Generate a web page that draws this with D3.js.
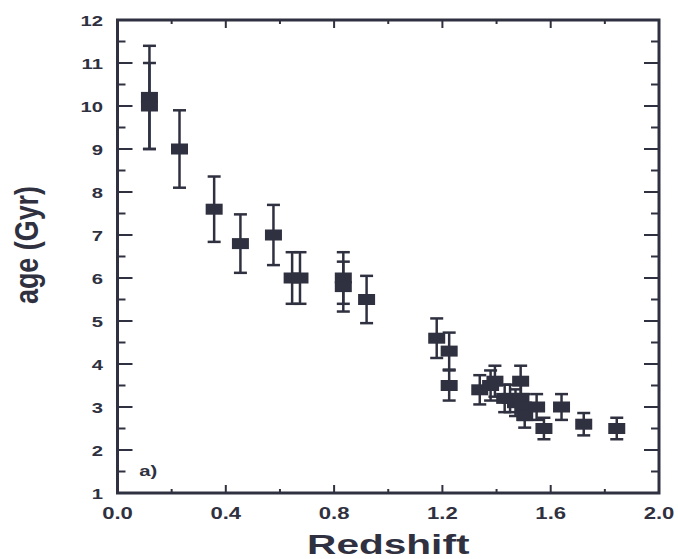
<!DOCTYPE html>
<html>
<head>
<meta charset="utf-8">
<script src="https://cdn.jsdelivr.net/npm/d3@7"></script>
<style>
  body { margin: 0; background: #fff; }
  text { font-family: "Liberation Sans", Arial, sans-serif; font-weight: bold; fill: #2f3140; }
</style>
</head>
<body>
<svg id="chart" width="678" height="559"></svg>
<script>
// redshift of each point
const redshift = [0.118, 0.118, 0.229, 0.357, 0.454, 0.576, 0.645, 0.674, 0.834, 0.834, 0.92,
  1.179, 1.225, 1.225, 1.338, 1.378, 1.394, 1.43, 1.45, 1.47, 1.489, 1.49, 1.5, 1.504,
  1.548, 1.575, 1.64, 1.722, 1.844];
// age (Gyr)
const age = [10.2, 10.0, 9.0, 7.6, 6.8, 7.0, 6.0, 6.0, 6.0, 5.8, 5.5,
  4.6, 4.3, 3.5, 3.4, 3.5, 3.6, 3.2, 3.2, 3.1, 3.6, 3.2, 3.0, 2.8,
  3.0, 2.5, 3.0, 2.6, 2.5];
// error bar half length
const ageErr = [1.2, 1.0, 0.9, 0.76, 0.68, 0.7, 0.6, 0.6, 0.6, 0.58, 0.55,
  0.46, 0.43, 0.35, 0.34, 0.35, 0.36, 0.32, 0.32, 0.31, 0.36, 0.32, 0.3, 0.28,
  0.3, 0.25, 0.3, 0.26, 0.25];

const xTickLabels = [0.0, 0.4, 0.8, 1.2, 1.6, 2.0];
const yTickLabels = [1, 2, 3, 4, 5, 6, 7, 8, 9, 10, 11, 12];

const ink = "#2f3140";
const svg = d3.select("#chart");

const x = d3.scaleLinear().domain([0, 2]).range([117.5, 659]);
const y = d3.scaleLinear().domain([1, 12]).range([493, 20]);

const points = redshift.map((z, i) => ({ z: z, age: age[i], err: ageErr[i] }));

// ticks: majors every 0.4 / 1, minors in between
const xMinor = d3.range(0, 2.001, 0.2);
const yMinor = d3.range(1, 12.001, 0.5);

const tickG = svg.append("g").attr("stroke", ink).attr("stroke-width", 2);

function isMajorX(v) { return Math.abs(v / 0.4 - Math.round(v / 0.4)) < 1e-6; }
function isMajorY(v) { return Math.abs(v - Math.round(v)) < 1e-6; }

// bottom and top
xMinor.forEach(v => {
  const len = isMajorX(v) ? 8 : 4;
  tickG.append("line").attr("x1", x(v)).attr("x2", x(v)).attr("y1", y(1)).attr("y2", y(1) - len);
  tickG.append("line").attr("x1", x(v)).attr("x2", x(v)).attr("y1", y(12)).attr("y2", y(12) + len);
});
// left and right
yMinor.forEach(v => {
  const len = isMajorY(v) ? 15 : 8;
  tickG.append("line").attr("x1", x(0)).attr("x2", x(0) + len).attr("y1", y(v)).attr("y2", y(v));
  tickG.append("line").attr("x1", x(2)).attr("x2", x(2) - len).attr("y1", y(v)).attr("y2", y(v));
});

// frame
svg.append("rect")
  .attr("x", x(0)).attr("y", y(12))
  .attr("width", x(2) - x(0)).attr("height", y(1) - y(12))
  .attr("fill", "none").attr("stroke", ink).attr("stroke-width", 3);

// tick labels (stretched wide like the original)
svg.selectAll("text.xlab")
  .data(xTickLabels)
  .enter()
  .append("text")
  .attr("class", "xlab")
  .attr("text-anchor", "middle")
  .attr("font-size", "16px")
  .attr("transform", d => `translate(${x(d)},519) scale(1.38,1)`)
  .text(d => d.toFixed(1));

svg.selectAll("text.ylab")
  .data(yTickLabels)
  .enter()
  .append("text")
  .attr("class", "ylab")
  .attr("text-anchor", "end")
  .attr("font-size", "15px")
  .attr("transform", d => `translate(103,${y(d) + 5.5}) scale(1.35,1)`)
  .text(d => d);

// axis titles
svg.append("text")
  .attr("text-anchor", "middle")
  .attr("font-size", "28px")
  .attr("transform", `translate(${(x(0) + x(2)) / 2},554) scale(1.45,1)`)
  .text("Redshift");

svg.append("text")
  .attr("text-anchor", "middle")
  .attr("font-size", "34px")
  .attr("textLength", 118)
  .attr("lengthAdjust", "spacingAndGlyphs")
  .attr("transform", "translate(38,245) rotate(-90)")
  .text("age (Gyr)");

// panel label
svg.append("text")
  .attr("font-size", "15px")
  .attr("transform", `translate(${x(0.08)},${y(1.4)}) scale(1.35,1)`)
  .text("a)");

// error bars
const bars = svg.append("g").attr("stroke", ink).attr("stroke-width", 2.5);
bars.selectAll("line.err")
  .data(points)
  .enter()
  .append("line")
  .attr("x1", d => x(d.z)).attr("x2", d => x(d.z))
  .attr("y1", d => y(d.age + d.err)).attr("y2", d => y(d.age - d.err));
bars.selectAll("line.capTop")
  .data(points)
  .enter()
  .append("line")
  .attr("x1", d => x(d.z) - 6.5).attr("x2", d => x(d.z) + 6.5)
  .attr("y1", d => y(d.age + d.err)).attr("y2", d => y(d.age + d.err));
bars.selectAll("line.capBot")
  .data(points)
  .enter()
  .append("line")
  .attr("x1", d => x(d.z) - 6.5).attr("x2", d => x(d.z) + 6.5)
  .attr("y1", d => y(d.age - d.err)).attr("y2", d => y(d.age - d.err));

// square markers
svg.append("g").selectAll("rect")
  .data(points)
  .enter()
  .append("rect")
  .attr("x", d => x(d.z) - 8.5)
  .attr("y", d => y(d.age) - 5.5)
  .attr("width", 17)
  .attr("height", 11)
  .attr("fill", ink);
</script>
</body>
</html>
